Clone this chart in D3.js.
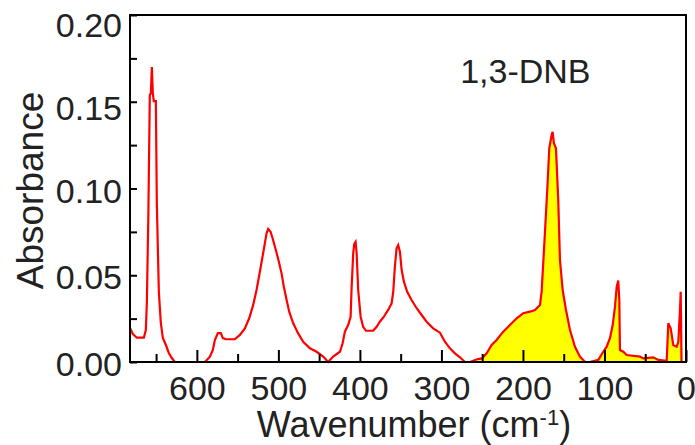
<!DOCTYPE html>
<html>
<head>
<meta charset="utf-8">
<script src="https://cdn.jsdelivr.net/npm/d3@7.9.0/dist/d3.min.js"></script>
<style>
  html, body { margin: 0; padding: 0; background: #fff; }
  svg { display: block; font-family: "Liberation Sans", Arial, sans-serif; }
</style>
</head>
<body>
<svg id="chart" width="695" height="445"></svg>
<script>
// spectrum: wavenumber (cm-1) and absorbance
const wavenumbers = [
  682, 678.5, 673.6, 665, 662.6, 661.3, 659.5, 657.7, 656.4, 655.2, 654, 652.8, 650.3, 649.1, 646.6, 644.2,
  641.7, 638, 634.4, 630.7, 627, 590,
  584, 580.4, 577.9, 574.2, 570.6, 568.1, 564.4, 553.4, 547.2, 541.1, 535.8, 530.9, 526.8, 522.7, 518.7,
  516.6, 514.5, 512.5, 509.6, 507.1, 503.1, 499.4, 496.1, 493.3, 489.9, 486.7, 481.8, 475.7, 469.6, 461.3,
  453.1, 445, 438.9, 432.8, 424.5,
  421.2, 418.4, 414.4, 411.4, 410.2, 408.2, 407, 405.3, 404, 402.1, 399.1, 396, 392.6, 383.7, 379.5, 375.5,
  370.6, 365.3, 361.1, 359.1, 357.1, 355, 353, 350.9, 348.8, 346, 342, 336.6, 330.4, 324.3, 318.2, 310.1,
  301.8, 295.7, 289.6, 283.4, 277.3, 271.2, 265, 255.2, 250.3,
  244.5, 238.4, 232.3, 224.2, 216, 207.7, 199.6, 191.4, 185.3, 179.1, 177.1, 174.2, 170.2, 167.7, 164.8,
  163.6, 162, 159.5, 156.7, 154.6, 151.3, 147.2, 142.3, 136.2, 130.1, 123.9, 117.8,
  107.6, 101.5, 97.3, 93.3, 89.9, 87.1, 85, 83.1, 81.8, 81, 76.9, 72.8, 56.4, 52.4, 40.1, 34, 23.7, 21.7,
  18.8, 15.6, 11.4, 9.4, 7.4, 6.5, 5.5
];
const absorbance = [
  0.0196, 0.0161, 0.0140, 0.0140, 0.0184, 0.0346, 0.0847, 0.1539, 0.1550, 0.1700, 0.1550, 0.1504, 0.1504, 0.0916, 0.0403, 0.0225,
  0.0138, 0.0098, 0.0052, 0.0023, 0, 0,
  0.0031, 0.0069, 0.0127, 0.0167, 0.0167, 0.0138, 0.0131, 0.0131, 0.0156, 0.0194, 0.0252, 0.0329, 0.0415, 0.0520, 0.0627,
  0.0684, 0.0742, 0.0767, 0.0751, 0.0713, 0.0646, 0.0578, 0.0511, 0.0434, 0.0357, 0.0290, 0.0223, 0.0165, 0.0117, 0.0079,
  0.0059, 0.0031, 0, 0.0031, 0.0059,
  0.0108, 0.0175, 0.0213, 0.0261, 0.0425, 0.0627, 0.0680, 0.0693, 0.0627, 0.0415, 0.0261, 0.0203, 0.0180, 0.0180, 0.0203, 0.0232,
  0.0261, 0.0300, 0.0338, 0.0405, 0.0549, 0.0655, 0.0674, 0.0636, 0.0530, 0.0463, 0.0405, 0.0357, 0.0310, 0.0271, 0.0232, 0.0194,
  0.0169, 0.0117, 0.0079, 0.0050, 0.0027, 0, 0, 0.0017, 0.0021,
  0.0050, 0.0098, 0.0127, 0.0175, 0.0213, 0.0252, 0.0281, 0.0290, 0.0300, 0.0329, 0.0405, 0.0646, 0.0991, 0.1232, 0.1308,
  0.1327, 0.1261, 0.1232, 0.0934, 0.0588, 0.0415, 0.0300, 0.0184, 0.0088, 0.0031, 0, 0,
  0.0012, 0.0059, 0.0088, 0.0137, 0.0213, 0.0319, 0.0434, 0.0469, 0.0357, 0.0069, 0.0059, 0.0040, 0.0031, 0.0021, 0.0027, 0.0012, 0.0007, 0.0223,
  0.0194, 0.0098, 0.0088, 0.0117, 0.0300, 0.0405, 0
];
const xMajorTicks = [600, 500, 400, 300, 200, 100, 0];
const xMinorTicks = [650, 550, 450, 350, 250, 150, 50];
const yMajorTicks = [0, 0.05, 0.10, 0.15, 0.20];
const yMinorTicks = [0.025, 0.075, 0.125, 0.175];
const fillBelow = 260; // yellow fill for the far-IR part
const sampleName = '1,3-DNB';

const margin = { top: 15, right: 9, bottom: 83, left: 130 };
const width = 695 - margin.left - margin.right;
const height = 445 - margin.top - margin.bottom;
const textColor = '#222';

const svg = d3.select('#chart');
const g = svg.append('g').attr('transform', `translate(${margin.left},${margin.top})`);

const x = d3.scaleLinear().domain([682, 0]).range([0, width]);
const y = d3.scaleLinear().domain([0, 0.2]).range([height, 0]);

const data = wavenumbers.map((w, i) => ({ w, a: absorbance[i] }));

// yellow area under the low-wavenumber bands
const area = d3.area()
  .x(d => x(d.w))
  .y0(y(0))
  .y1(d => y(d.a));
g.append('path')
  .datum(data.filter(d => d.w <= fillBelow))
  .attr('fill', '#ffff00')
  .attr('d', area);

const line = d3.line()
  .x(d => x(d.w))
  .y(d => y(d.a));
g.append('path')
  .datum(data)
  .attr('fill', 'none')
  .attr('stroke', '#ff0000')
  .attr('stroke-width', 2.2)
  .attr('d', line);

// axes with inward ticks
const xAxis = g.append('g')
  .attr('transform', `translate(0,${height})`)
  .call(d3.axisBottom(x).tickValues(xMajorTicks).tickSize(-12).tickPadding(14).tickFormat(d3.format('d')));
const xMinor = g.append('g')
  .attr('transform', `translate(0,${height})`)
  .call(d3.axisBottom(x).tickValues(xMinorTicks).tickSize(-8).tickFormat(''));
const yAxis = g.append('g')
  .call(d3.axisLeft(y).tickValues(yMajorTicks).tickSize(-7).tickPadding(8).tickFormat(d3.format('.2f')));
const yMinor = g.append('g')
  .call(d3.axisLeft(y).tickValues(yMinorTicks).tickSize(-7).tickFormat(''));

[xAxis, xMinor, yAxis, yMinor].forEach(ax => {
  ax.select('.domain').remove();
  ax.selectAll('line').attr('stroke', '#000').attr('stroke-width', 2);
  ax.selectAll('text').attr('font-size', 34).attr('fill', textColor).attr('font-family', null);
});

// the upper y labels sit a little low in the original
yAxis.selectAll('.tick text')
  .attr('dy', d => d >= 0.2 ? '0.62em' : d >= 0.15 ? '0.52em' : '0.4em');

// frame
g.append('rect')
  .attr('width', width)
  .attr('height', height)
  .attr('fill', 'none')
  .attr('stroke', '#000')
  .attr('stroke-width', 2);

// titles
g.append('text')
  .attr('x', width / 2 + 6)
  .attr('y', height + 75)
  .attr('text-anchor', 'middle')
  .attr('font-size', 36)
  .attr('fill', textColor)
  .html('Wavenumber (cm<tspan dy="-12" font-size="22">-1</tspan><tspan dy="12">)</tspan>');

g.append('text')
  .attr('transform', `translate(-87,${height / 2 + 2}) rotate(-90)`)
  .attr('text-anchor', 'middle')
  .attr('font-size', 37)
  .attr('fill', textColor)
  .text('Absorbance');

g.append('text')
  .attr('x', x(277))
  .attr('y', 68)
  .attr('font-size', 34)
  .attr('fill', textColor)
  .text(sampleName);
</script>
</body>
</html>
